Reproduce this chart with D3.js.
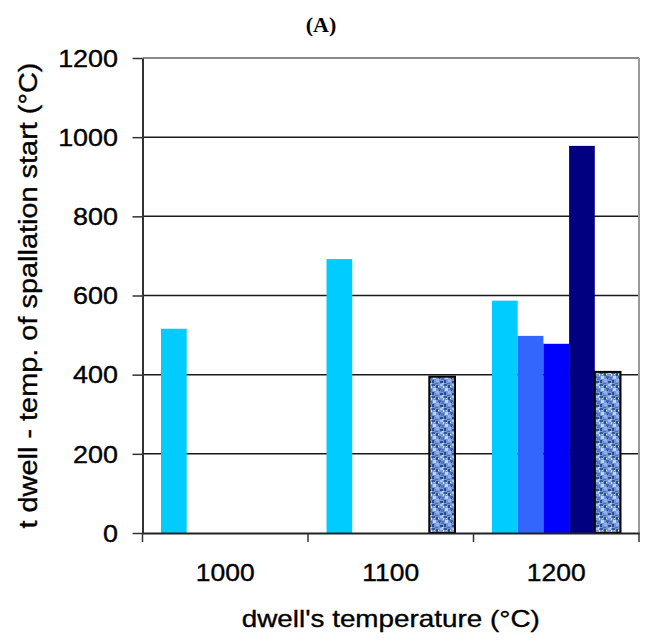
<!DOCTYPE html>
<html>
<head>
<meta charset="utf-8">
<script src="https://cdn.jsdelivr.net/npm/d3@7/dist/d3.min.js"></script>
<style>
  html, body { margin: 0; padding: 0; background: #fff; }
  svg { display: block; font-family: "Liberation Sans", Arial, sans-serif; }
  .txt { stroke: #000; stroke-width: 0.35px; }
</style>
</head>
<body>
<svg id="chart" width="650" height="643"></svg>
<script>
// ---- data ----
const categories = ["1000", "1100", "1200"];
const seriesNames = ["s1", "s2", "s3", "s4", "s5"];
const s1 = [516, 692, 587];
const s2 = [null, null, 498];
const s3 = [null, null, 478];
const s4 = [null, null, 978];
const s5 = [null, 395, 407];
const yTicks = [0, 200, 400, 600, 800, 1000, 1200];
const title = "(A)";
const xLabel = "dwell's temperature (\u00B0C)";
const yLabel = "t dwell - temp. of spallation start (\u00B0C)";

const seriesValues = [s1, s2, s3, s4, s5];
const colors = ["#00CCFF", "#3366FF", "#0000FF", "#000080", "url(#mottle)"];

// ---- layout ----
const L = 142.5, R = 639, T = 58, B = 533;
const svg = d3.select("#chart");

// pattern for the textured series
const defs = svg.append("defs");
const pat = defs.append("pattern").attr("id", "mottle")
  .attr("patternUnits", "userSpaceOnUse").attr("width", 12).attr("height", 12);
pat.append("rect").attr("width", 12).attr("height", 12).attr("fill", "#7396d6");
const spots = [
  [0,0,3,2,"#35599f"],[4,1,2,3,"#2a4b90"],[8,0,3,2,"#a9c2ee"],[1,4,3,3,"#bfd3f5"],
  [6,4,3,2,"#3f63ad"],[9,5,3,3,"#5677bf"],[0,8,2,3,"#2a4b90"],[4,7,3,3,"#96b3e8"],
  [8,9,3,2,"#2a4b90"],[3,11,3,1,"#4a6db5"],[11,2,1,2,"#d3e1f8"],[6,2,1,1,"#e0eafa"],
  [2,2,1,1,"#c8d9f6"],[10,11,2,1,"#c8d9f6"],[7,6,1,1,"#1e3f86"]
];
spots.forEach(s => pat.append("rect").attr("x", s[0]).attr("y", s[1])
  .attr("width", s[2]).attr("height", s[3]).attr("fill", s[4]));

const y = d3.scaleLinear().domain([0, 1200]).range([B, T]);
const x0 = d3.scaleBand().domain(categories).range([L, R]).padding(0);
const x1 = d3.scaleBand().domain(seriesNames).range([0, x0.bandwidth()])
  .paddingInner(0).paddingOuter(0.72);

// gridlines
svg.append("g").selectAll("line").data(yTicks.filter(v => v > 0 && v < 1200)).join("line")
  .attr("x1", L).attr("x2", R).attr("y1", d => y(d)).attr("y2", d => y(d))
  .attr("stroke", "#1a1a1a").attr("stroke-width", 1.5);

// top & right border
svg.append("line").attr("x1", L).attr("x2", R).attr("y1", y(1200)).attr("y2", y(1200))
  .attr("stroke", "#8a8a8a").attr("stroke-width", 2);
svg.append("line").attr("x1", R).attr("x2", R).attr("y1", T).attr("y2", B)
  .attr("stroke", "#9a9a9a").attr("stroke-width", 2);

// bars
const data = [];
categories.forEach((c, i) => {
  seriesNames.forEach((s, j) => {
    const v = seriesValues[j][i];
    if (v != null) data.push({ c, s, v, j });
  });
});
svg.append("g").selectAll("rect").data(data).join("rect")
  .attr("x", d => x0(d.c) + x1(d.s))
  .attr("width", x1.bandwidth())
  .attr("y", d => y(d.v))
  .attr("height", d => y(0) - y(d.v))
  .attr("fill", d => colors[d.j])
  .attr("stroke", d => d.j === 4 ? "#000" : "none")
  .attr("stroke-width", d => d.j === 4 ? 2 : 0);

// y axis
const yAxis = svg.append("g").attr("transform", `translate(${L},0)`)
  .call(d3.axisLeft(y).tickValues(yTicks).tickFormat(d3.format("d")).tickSize(10).tickSizeOuter(0));
yAxis.select(".domain").attr("stroke", "#333").attr("stroke-width", 2);
yAxis.selectAll(".tick line").attr("stroke", "#333").attr("stroke-width", 1.5);
yAxis.selectAll(".tick text")
  .attr("class", "txt")
  .attr("x", 0).attr("dy", "0.36em")
  .attr("transform", "translate(-24.5,0) scale(1.17,1)")
  .attr("font-size", 23).attr("fill", "#000")
  .attr("font-family", "'Liberation Sans', Arial, sans-serif");

// x axis (labels)
const xAxis = svg.append("g").attr("transform", `translate(0,${B})`)
  .call(d3.axisBottom(x0).tickSize(0).tickPadding(0));
xAxis.select(".domain").attr("stroke", "#222").attr("stroke-width", 2);
xAxis.selectAll(".tick text")
  .attr("class", "txt")
  .attr("y", 0).attr("dy", 0)
  .attr("transform", "translate(0,48) scale(1.15,1)")
  .attr("font-size", 23).attr("fill", "#000")
  .attr("font-family", "'Liberation Sans', Arial, sans-serif");

// group boundary ticks
const bounds = categories.map(c => x0(c)).concat([x0.range()[1]]);
svg.append("g").selectAll("line").data(bounds).join("line")
  .attr("x1", d => d).attr("x2", d => d).attr("y1", B).attr("y2", B + 9)
  .attr("stroke", "#333").attr("stroke-width", 1.5);

// axis titles
svg.append("text").attr("class", "txt").attr("x", (L + R) / 2).attr("y", 627)
  .attr("text-anchor", "middle").attr("font-size", 24)
  .attr("textLength", 298).attr("lengthAdjust", "spacingAndGlyphs")
  .text(xLabel);

svg.append("text").attr("class", "txt")
  .attr("transform", `translate(37,${(T + B) / 2}) rotate(-90)`)
  .attr("text-anchor", "middle").attr("font-size", 26)
  .attr("textLength", 466).attr("lengthAdjust", "spacingAndGlyphs")
  .text(yLabel);

// chart title
svg.append("text").attr("x", 321).attr("y", 32)
  .attr("text-anchor", "middle").attr("font-size", 22).attr("font-weight", "bold")
  .attr("font-family", "'Liberation Serif', 'Times New Roman', serif")
  .text(title);
</script>
</body>
</html>
